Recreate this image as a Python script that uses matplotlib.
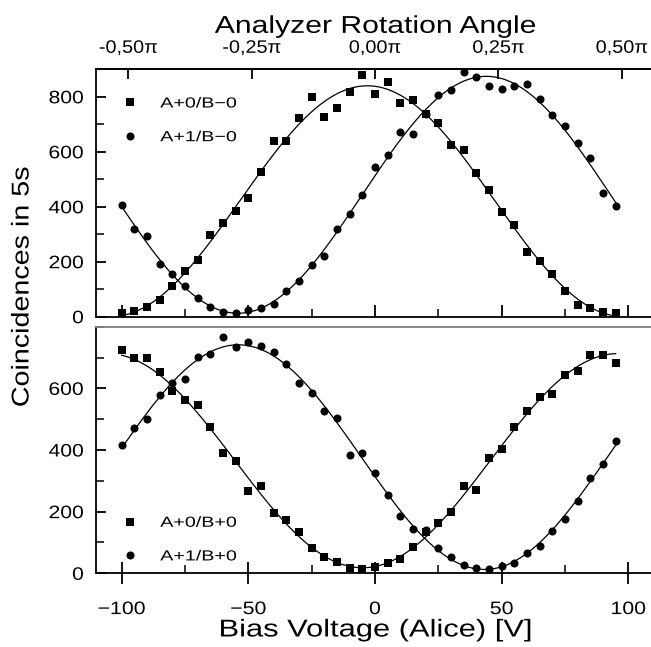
import numpy as np
import matplotlib
matplotlib.use("Agg")
import matplotlib.pyplot as plt
from matplotlib.ticker import MultipleLocator, FixedLocator, FuncFormatter
from matplotlib.patheffects import AbstractPathEffect
from matplotlib.transforms import Affine2D

plt.rcParams['font.family'] = ['Liberation Sans', 'DejaVu Sans']

# ---------------- data ----------------
voltage = list(range(-100, 100, 5))  # 40 points, -100 .. 95 V

top_sq = [14, 22, 37, 60, 113, 165, 208, 296, 341, 384,
          432, 526, 638, 638, 723, 798, 728, 760, 816, 879,
          810, 855, 777, 787, 738, 704, 623, 606, 524, 460,
          380, 332, 237, 202, 155, 92, 41, 32, 17, 12]
top_ci = [405, 320, 293, 192, 156, 113, 67, 34, 18, 12,
          24, 33, 45, 94, 130, 187, 222, 320, 373, 443,
          544, 588, 671, 665, 738, 805, 824, 889, 872, 841,
          829, 841, 846, 791, 732, 695, 631, 577, 450, 402]
bot_sq = [724, 699, 699, 652, 592, 561, 545, 474, 390, 364,
          267, 284, 195, 173, 134, 81, 54, 38, 16, 15,
          20, 32, 46, 85, 134, 162, 198, 283, 271, 373,
          402, 476, 526, 573, 581, 643, 657, 709, 707, 681]
bot_ci = [415, 470, 500, 580, 618, 631, 701, 712, 767, 733,
          749, 739, 719, 678, 618, 585, 525, 504, 385, 391,
          327, 254, 186, 144, 140, 83, 54, 26, 17, 14,
          25, 34, 66, 88, 137, 175, 234, 309, 354, 428]

labels_top = ["A+0/B\u22120", "A+1/B\u22120"]
labels_bot = ["A+0/B+0", "A+1/B+0"]

angle_ticks = [-0.50, -0.25, 0.00, 0.25, 0.50]
volt_per_halfpi = 97.4  # top axis: 0.5 pi corresponds to 97.4 V


# ---------------- horizontal text stretch (wide letter look) ----------------
class Stretch(AbstractPathEffect):
    def __init__(self, sx, align='center'):
        super().__init__()
        self.sx = sx
        self.align = align

    def draw_path(self, renderer, gc, tpath, affine, rgbFace=None):
        ext = tpath.get_extents()
        if self.align == 'left':
            cx = ext.x0
        elif self.align == 'right':
            cx = ext.x1
        else:
            cx = 0.5 * (ext.x0 + ext.x1)
        t = Affine2D().translate(-cx, 0).scale(self.sx, 1).translate(cx, 0) + affine
        renderer.draw_path(gc, tpath, t, rgbFace)


# ---------------- sinusoidal least-squares fit ----------------
def fit_curve(x, y):
    x = np.asarray(x, float)
    y = np.asarray(y, float)
    best = None
    for k in np.linspace(0.025, 0.040, 301):
        A = np.column_stack([np.ones_like(x), np.cos(k * x), np.sin(k * x)])
        coef, *_ = np.linalg.lstsq(A, y, rcond=None)
        r = np.sum((A @ coef - y) ** 2)
        if best is None or r < best[0]:
            best = (r, k, coef)
    _, k, c = best
    xf = np.linspace(x.min(), x.max(), 400)
    return xf, c[0] + c[1] * np.cos(k * xf) + c[2] * np.sin(k * xf)


# ---------------- figure ----------------
W, H = 651, 647
fig = plt.figure(figsize=(W / 100, H / 100), dpi=100)

x0 = 96.3 / W
wid = (653.7 - 96.3) / W
ax1 = fig.add_axes([x0, 1 - 316.7 / H, wid, (316.7 - 69.3) / H])
ax2 = fig.add_axes([x0, 1 - 573.3 / H, wid, (573.3 - 326.7) / H])

ms_sq = 5.6
ms_ci = 5.8
TICK_FS = 13

for ax, sq, ci, labs in [(ax1, top_sq, top_ci, labels_top),
                         (ax2, bot_sq, bot_ci, labels_bot)]:
    for yv in (sq, ci):
        xf, yf = fit_curve(voltage, yv)
        ax.plot(xf, yf, color='black', lw=0.9, zorder=2)
    ax.plot(voltage, sq, 's', color='black', ms=ms_sq, mew=0, label=labs[0], zorder=3)
    ax.plot(voltage, ci, 'o', color='black', ms=ms_ci, mew=0, label=labs[1], zorder=3)
    ax.set_xlim(-110, 110)
    ax.xaxis.set_major_locator(MultipleLocator(50))
    ax.xaxis.set_minor_locator(MultipleLocator(25))
    ax.yaxis.set_minor_locator(MultipleLocator(100))
    ax.tick_params(axis='x', which='major', direction='in', length=8.5, width=1.3)
    ax.tick_params(axis='x', which='minor', direction='in', length=5.5, width=1.1)
    ax.tick_params(axis='y', which='major', direction='in', length=7.5, width=1.3,
                   labelsize=TICK_FS, pad=9)
    ax.tick_params(axis='y', which='minor', direction='in', length=5.5, width=1.1)
    for s in ax.spines.values():
        s.set_linewidth(1.3)
    ax.spines['right'].set_visible(False)

ax1.set_ylim(0, 900)
ax2.set_ylim(0, 800)
ax1.yaxis.set_major_locator(FixedLocator([0, 200, 400, 600, 800]))
ax2.yaxis.set_major_locator(FixedLocator([0, 200, 400, 600]))

ax1.tick_params(axis='x', which='both', labelbottom=False)
ax2.tick_params(axis='x', which='major', direction='inout', length=16,
                labelsize=TICK_FS, pad=12)
ax2.spines['top'].set_color('#808080')

# top secondary axis for analyzer angle
sec = ax1.secondary_xaxis('top', functions=(lambda v: v / volt_per_halfpi * 0.5,
                                            lambda a: a / 0.5 * volt_per_halfpi))
sec.xaxis.set_major_locator(FixedLocator(angle_ticks))
sec.xaxis.set_major_formatter(FuncFormatter(
    lambda a, p: ("%.2f" % a).replace('.', ',').replace('-0,00', '0,00') + "\u03c0"))
sec.tick_params(axis='x', direction='in', length=7.5, width=1.3, labelsize=TICK_FS, pad=9)
sec.spines['top'].set_linewidth(1.3)
tl = sec.set_xlabel("Analyzer Rotation Angle", fontsize=17.5, labelpad=5)
tl.set_path_effects([Stretch(1.24)])

xl = ax2.set_xlabel("Bias Voltage (Alice) [V]", fontsize=17.5, labelpad=1)
xl.set_path_effects([Stretch(1.27)])
yl = fig.text(22.5 / W, 1 - 287 / H, "Coincidences in 5s", rotation=90, fontsize=17.5,
              ha='center', va='center')
yl.set_path_effects([Stretch(1.18)])

leg_kw = dict(frameon=False, fontsize=10.5, handletextpad=1.55, labelspacing=1.35,
              borderaxespad=0, borderpad=0, handlelength=1.0)
lg1 = ax1.legend(loc='upper left', bbox_to_anchor=(0.048, 0.89), **leg_kw)
lg2 = ax2.legend(loc='lower left', bbox_to_anchor=(0.048, 0.04), **leg_kw)
for lg in (lg1, lg2):
    for t in lg.get_texts():
        t.set_path_effects([Stretch(1.35, 'left')])

fig.canvas.draw()
for lbl in ax1.get_yticklabels() + ax2.get_yticklabels():
    lbl.set_path_effects([Stretch(1.17, 'right')])
for lbl in ax2.get_xticklabels():
    lbl.set_path_effects([Stretch(1.18)])
for lbl in sec.get_xticklabels():
    lbl.set_path_effects([Stretch(1.1)])

fig.savefig("out.png", dpi=100)
